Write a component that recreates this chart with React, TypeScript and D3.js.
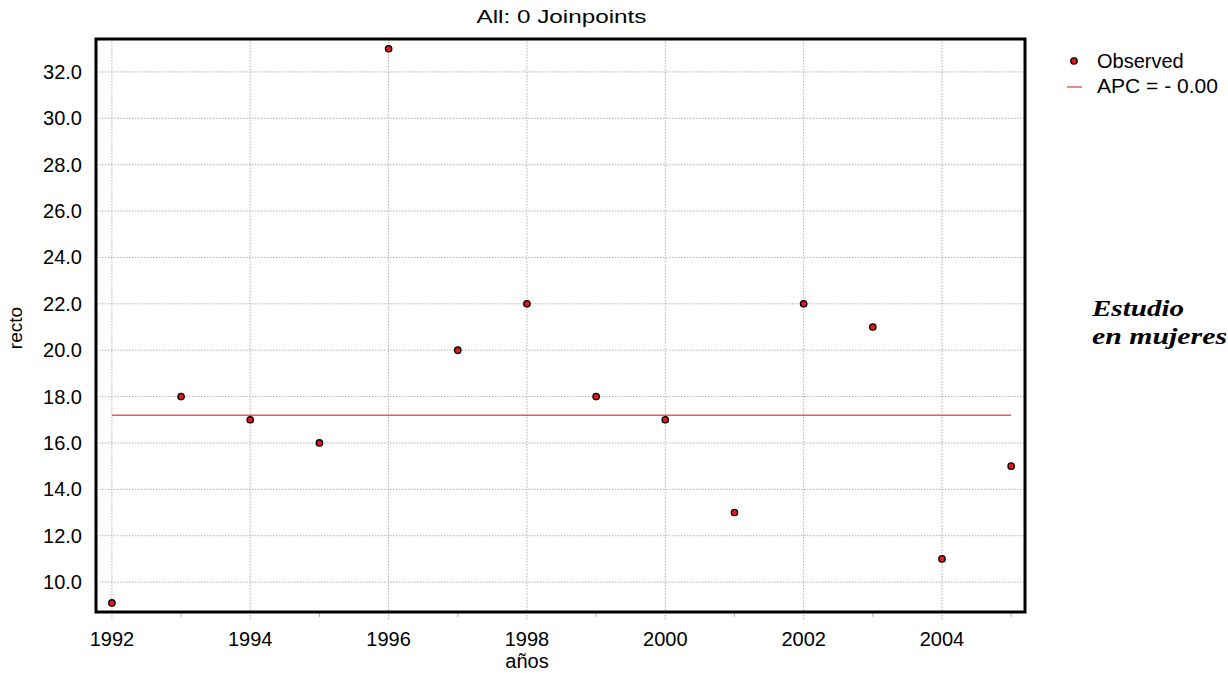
import React from 'react';
import * as d3 from 'd3';

const years = [1992, 1993, 1994, 1995, 1996, 1997, 1998, 1999, 2000, 2001, 2002, 2003, 2004, 2005];
const observed = [9.1, 18.0, 17.0, 16.0, 33.0, 20.0, 22.0, 18.0, 17.0, 13.0, 22.0, 21.0, 11.0, 15.0];
const fitted = [17.2, 17.2];
const fitYears = [1992, 2005];
const yTicks = [10, 12, 14, 16, 18, 20, 22, 24, 26, 28, 30, 32];
const xTicks = [1992, 1994, 1996, 1998, 2000, 2002, 2004];
const xMinor = [1993, 1995, 1997, 1999, 2001, 2003, 2005];

const W = 1228;
const H = 673;
const left = 96, right = 1025, top = 39, bottom = 612;
const font = '"Liberation Sans", Arial, sans-serif';
const serif = '"Liberation Serif", "Times New Roman", serif';

export default function App() {
  const x = d3.scaleLinear().domain([1991.77, 2005.2]).range([left, right]);
  const y = d3.scaleLinear().domain([8.71, 33.42]).range([bottom, top]);
  const line = d3.line<number>().x((d, i) => x(fitYears[i])).y(d => y(d));

  return (
    <svg width={W} height={H} style={{ position: 'absolute', left: 0, top: 0 }}>
      <rect width={W} height={H} fill="#fff" />
      <text x={(left + right) / 2 + 1} y={23} textAnchor="middle" fontFamily={font} fontSize={18}
        textLength={170} lengthAdjust="spacingAndGlyphs">All: 0 Joinpoints</text>
      {/* grid */}
      {xTicks.map(t => (
        <line key={'gx' + t} x1={x(t)} x2={x(t)} y1={top} y2={bottom + 8} stroke="#b0b0b0" strokeDasharray="1.5,1.5" />
      ))}
      {xMinor.map(t => (
        <line key={'mx' + t} x1={x(t)} x2={x(t)} y1={bottom} y2={bottom + 5} stroke="#b0b0b0" />
      ))}
      {yTicks.map(t => (
        <line key={'gy' + t} x1={left} x2={right} y1={y(t)} y2={y(t)} stroke="#b0b0b0" strokeDasharray="1.5,1.5" />
      ))}
      <path d={line(fitted) || ''} fill="none" stroke="#e06060" strokeWidth={1.5} />
      {observed.map((v, i) => (
        <circle key={i} cx={x(years[i])} cy={y(v)} r={3.2} fill="#e01818" stroke="#000" strokeWidth={1.3} />
      ))}
      <rect x={left} y={top} width={right - left} height={bottom - top} fill="none" stroke="#000" strokeWidth={3} />
      {yTicks.map(t => (
        <text key={'ty' + t} x={82} y={y(t) + 7} textAnchor="end" fontFamily={font} fontSize={20}>{t.toFixed(1)}</text>
      ))}
      {xTicks.map(t => (
        <text key={'tx' + t} x={x(t)} y={646} textAnchor="middle" fontFamily={font} fontSize={20}>{t}</text>
      ))}
      <text x={527} y={668} textAnchor="middle" fontFamily={font} fontSize={20}>años</text>
      <text transform="translate(22,328) rotate(-90)" textAnchor="middle" fontFamily={font} fontSize={19}>recto</text>
      {/* legend */}
      <circle cx={1074} cy={61} r={3.2} fill="#e01818" stroke="#000" strokeWidth={1.3} />
      <text x={1097} y={68} fontFamily={font} fontSize={20}>Observed</text>
      <line x1={1067} x2={1082} y1={87} y2={87} stroke="#e06060" strokeWidth={1.5} />
      <text x={1097} y={93} fontFamily={font} fontSize={20} textLength={121} lengthAdjust="spacingAndGlyphs">APC = - 0.00</text>
      <text x={1092} y={316} fontFamily={serif} fontStyle="italic" fontWeight="bold" fontSize={24}
        textLength={92} lengthAdjust="spacingAndGlyphs">Estudio</text>
      <text x={1092} y={344} fontFamily={serif} fontStyle="italic" fontWeight="bold" fontSize={24}
        textLength={135} lengthAdjust="spacingAndGlyphs">en mujeres</text>
    </svg>
  );
}
